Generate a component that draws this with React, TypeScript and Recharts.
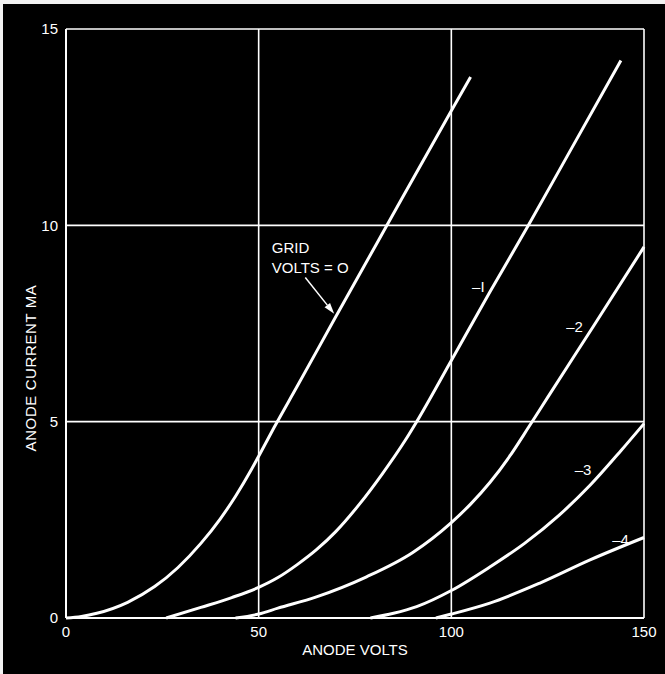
import { LineChart, Line, XAxis, YAxis, CartesianGrid, ReferenceDot, ReferenceLine, Label } from 'recharts';

// anode volts / anode current (mA)
const grid0 = [
  { v: 0, i: 0 }, { v: 4, i: 0.04 }, { v: 8, i: 0.12 }, { v: 16, i: 0.4 }, { v: 23, i: 0.8 },
  { v: 29, i: 1.28 }, { v: 35, i: 1.9 }, { v: 40, i: 2.52 }, { v: 44, i: 3.1 }, { v: 48, i: 3.76 },
  { v: 50, i: 4.12 }, { v: 54, i: 4.85 }, { v: 60, i: 5.9 }, { v: 70, i: 7.67 }, { v: 83, i: 9.95 },
  { v: 100, i: 12.92 }, { v: 105, i: 13.78 },
];
const grid1 = [
  { v: 26, i: 0 }, { v: 35, i: 0.27 }, { v: 43, i: 0.52 }, { v: 50, i: 0.78 }, { v: 55, i: 1.03 },
  { v: 60, i: 1.36 }, { v: 65, i: 1.74 }, { v: 70, i: 2.2 }, { v: 76, i: 2.88 }, { v: 82, i: 3.66 },
  { v: 88, i: 4.52 }, { v: 91, i: 5.0 }, { v: 100, i: 6.56 }, { v: 110, i: 8.3 }, { v: 120, i: 10.0 },
  { v: 130, i: 11.75 }, { v: 144, i: 14.2 },
];
const grid2 = [
  { v: 44, i: 0 }, { v: 50, i: 0.1 }, { v: 55, i: 0.25 }, { v: 65, i: 0.54 }, { v: 78, i: 1.05 },
  { v: 90, i: 1.67 }, { v: 100, i: 2.43 }, { v: 105, i: 2.9 }, { v: 110, i: 3.45 }, { v: 115, i: 4.1 },
  { v: 120, i: 4.85 }, { v: 125, i: 5.62 }, { v: 137, i: 7.45 }, { v: 150, i: 9.45 },
];
const grid3 = [
  { v: 79, i: 0 }, { v: 85, i: 0.12 }, { v: 91, i: 0.29 }, { v: 100, i: 0.7 }, { v: 110, i: 1.3 },
  { v: 119, i: 1.9 }, { v: 128, i: 2.62 }, { v: 136, i: 3.38 }, { v: 144, i: 4.26 }, { v: 150, i: 4.95 },
];
const grid4 = [
  { v: 96, i: 0 }, { v: 100, i: 0.1 }, { v: 110, i: 0.38 }, { v: 123, i: 0.89 }, { v: 136, i: 1.48 },
  { v: 150, i: 2.05 },
];

const curves = [grid0, grid1, grid2, grid3, grid4];
const curveLabels = [
  { text: '\u2013I', v: 107, i: 8.44 },
  { text: '\u20132', v: 132, i: 7.41 },
  { text: '\u20133', v: 134.2, i: 3.78 },
  { text: '\u20134', v: 143.9, i: 2.0 },
];
const xTicks = [0, 50, 100, 150];
const yTicks = [0, 5, 10, 15];

const font = '"Liberation Sans", Arial, sans-serif';
const tickStyle = { fill: '#fff', fontSize: 15, fontFamily: font };

const ArrowShape = (props: any) => {
  const { x1, y1, x2, y2 } = props;
  const ang = Math.atan2(y2 - y1, x2 - x1);
  const len = 11;
  const w = 3.5;
  const bx = x2 - len * Math.cos(ang);
  const by = y2 - len * Math.sin(ang);
  const px = -Math.sin(ang) * w;
  const py = Math.cos(ang) * w;
  return (
    <g>
      <line x1={x1} y1={y1} x2={bx} y2={by} stroke="#fff" strokeWidth={1.5} />
      <polygon points={`${x2},${y2} ${bx + px},${by + py} ${bx - px},${by - py}`} fill="#fff" />
    </g>
  );
};

const App = () => {
  return (
    <div style={{ position: 'absolute', left: 0, top: 0, width: 665, height: 674, background: '#f2f2f2' }}>
      <div style={{ position: 'absolute', left: 3, top: 4, width: 662, height: 670, background: '#000' }} />
      <div style={{ position: 'absolute', left: 0, top: 0 }}>
        <LineChart width={665} height={674} margin={{ top: 29, right: 21, bottom: 6, left: 6 }}>
          <CartesianGrid stroke="#fff" strokeWidth={1.6} horizontalValues={yTicks} verticalValues={xTicks} />
          <XAxis
            type="number"
            dataKey="v"
            domain={[0, 150]}
            ticks={xTicks}
            height={50}
            axisLine={{ stroke: '#fff', strokeWidth: 2 }}
            tickLine={false}
            tick={tickStyle}
            interval={0}
          >
            <Label value="ANODE VOLTS" position="insideBottom" offset={13} fill="#fff" fontSize={15} fontFamily={font} />
          </XAxis>
          <YAxis
            type="number"
            domain={[0, 15]}
            ticks={yTicks}
            width={60}
            axisLine={{ stroke: '#fff', strokeWidth: 2 }}
            tickLine={false}
            tick={tickStyle}
            interval={0}
          >
            <Label
              content={() => (
                <text
                  x={30}
                  y={368}
                  transform="rotate(-90, 30, 368)"
                  textAnchor="middle"
                  dominantBaseline="central"
                  fill="#fff"
                  fontSize={15}
                  fontFamily={font}
                  letterSpacing={0.6}
                >
                  ANODE CURRENT MA
                </text>
              )}
            />
          </YAxis>
          {curves.map((c, idx) => (
            <Line
              key={idx}
              data={c}
              dataKey="i"
              type="monotone"
              stroke="#fff"
              strokeWidth={3}
              dot={false}
              isAnimationActive={false}
            />
          ))}
          <ReferenceLine
            segment={[{ x: 62.1, y: 8.67 }, { x: 69.6, y: 7.75 }]}
            shape={ArrowShape}
          />
          <ReferenceDot x={53.4} y={9.3} r={0} fill="none" stroke="none">
            <Label
              content={(p: any) => (
                <text x={p.viewBox.cx ?? p.viewBox.x} y={p.viewBox.cy ?? p.viewBox.y} fill="#fff" fontSize={15} fontFamily={font}>
                  GRID
                </text>
              )}
            />
          </ReferenceDot>
          <ReferenceDot x={53.4} y={8.79} r={0} fill="none" stroke="none">
            <Label
              content={(p: any) => (
                <text x={p.viewBox.cx ?? p.viewBox.x} y={p.viewBox.cy ?? p.viewBox.y} fill="#fff" fontSize={15} fontFamily={font}>
                  VOLTS = O
                </text>
              )}
            />
          </ReferenceDot>
          {curveLabels.map((l) => (
            <ReferenceDot key={l.text} x={l.v} y={l.i} r={0} fill="none" stroke="none">
              <Label value={l.text} position="center" fill="#fff" fontSize={15} fontFamily={font} />
            </ReferenceDot>
          ))}
        </LineChart>
      </div>
    </div>
  );
};

export default App;
